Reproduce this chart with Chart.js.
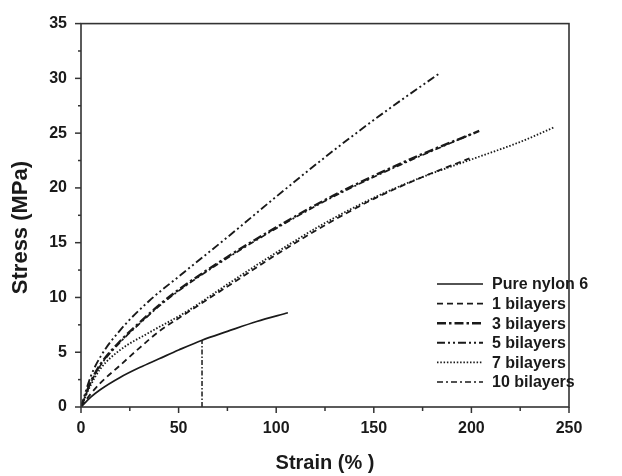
<!DOCTYPE html>
<html>
<head>
<meta charset="utf-8">
<script src="https://cdn.jsdelivr.net/npm/chart.js@4.4.1/dist/chart.umd.min.js"></script>
<style>
  html, body { margin: 0; padding: 0; background: #fff; }
  #wrap { width: 622px; height: 476px; position: relative; }
</style>
</head>
<body>
<div id="wrap"><canvas id="c" width="622" height="476"></canvas></div>
<script>
// ---- data (strain %, stress MPa) ----
const seriesLabels = ['Pure nylon 6', '1 bilayers', '3 bilayers', '5 bilayers', '7 bilayers', '10 bilayers'];

const nylonStrain = [0, 5, 10, 20, 30, 40, 50, 62, 75, 90, 106];
const nylonStress = [0, 0.9, 1.6, 2.7, 3.6, 4.4, 5.2, 6.1, 6.9, 7.8, 8.6];

const bi1Strain = [0, 5, 10, 20, 30, 40, 50, 75, 100, 125, 150, 175, 199];
const bi1Stress = [0, 1.2, 2.2, 3.8, 5.4, 6.9, 8.1, 11.0, 13.9, 16.6, 19.0, 21.0, 22.7];

const bi3Strain = [0, 5, 10, 20, 30, 40, 50, 75, 100, 125, 150, 175, 204];
const bi3Stress = [0, 2.3, 3.9, 6.0, 7.7, 9.3, 10.7, 13.7, 16.4, 18.9, 21.1, 23.1, 25.2];

const bi5Strain = [0, 5, 10, 20, 35, 50, 75, 100, 125, 141, 160, 184];
const bi5Stress = [0, 2.8, 4.6, 7.0, 9.7, 11.9, 15.5, 19.2, 22.8, 25.0, 27.5, 30.5];

const bi7Strain = [0, 5, 10, 20, 34, 54, 75, 100, 125, 150, 175, 200, 225, 242];
const bi7Stress = [0, 2.0, 3.5, 5.2, 6.7, 8.7, 11.2, 14.1, 16.8, 19.1, 21.0, 22.6, 24.2, 25.5];

const bi10Strain = [0, 5, 10, 20, 30, 40, 50, 75, 100, 125, 150, 175, 200];
const bi10Stress = [0, 2.2, 3.8, 5.9, 7.6, 9.2, 10.6, 13.6, 16.3, 18.8, 21.0, 23.0, 24.9];

// vertical marker at the yield strain of pure nylon 6
const markerStrain = [62, 62];
const markerStress = [0, 6.1];

const xTickValues = [0, 50, 100, 150, 200, 250];
const yTickValues = [0, 5, 10, 15, 20, 25, 30, 35];

function pts(xs, ys) { return xs.map((x, i) => ({ x: x, y: ys[i] })); }

const INK = '#1a1a1a';
const styles = [
  { borderDash: [], borderWidth: 1.7 },
  { borderDash: [6, 4], borderWidth: 1.8 },
  { borderDash: [9, 3, 2.5, 3], borderWidth: 2.4 },
  { borderDash: [8, 3, 2, 3, 2, 3], borderWidth: 1.9 },
  { borderDash: [1.5, 1.8], borderWidth: 1.8 },
  { borderDash: [6, 3, 2, 3], borderWidth: 1.7 }
];
const seriesData = [
  pts(nylonStrain, nylonStress), pts(bi1Strain, bi1Stress), pts(bi3Strain, bi3Stress),
  pts(bi5Strain, bi5Stress), pts(bi7Strain, bi7Stress), pts(bi10Strain, bi10Stress)
];

const datasets = seriesLabels.map((lab, i) => ({
  label: lab,
  data: seriesData[i],
  showLine: true,
  borderColor: INK,
  backgroundColor: INK,
  borderWidth: styles[i].borderWidth,
  borderDash: styles[i].borderDash,
  pointRadius: 0,
  cubicInterpolationMode: 'monotone',
  fill: false
}));
datasets.push({
  label: '_marker',
  data: pts(markerStrain, markerStress),
  showLine: true,
  borderColor: INK,
  borderWidth: 1.5,
  borderDash: [5, 2, 1.5, 2],
  pointRadius: 0,
  fill: false
});

const FONT = "'Liberation Sans', Arial, sans-serif";

const framePlugin = {
  id: 'frameTicks',
  afterDraw(chart) {
    const { ctx, chartArea: a, scales } = chart;
    ctx.save();
    ctx.strokeStyle = '#333';
    ctx.lineWidth = 1.6;
    ctx.strokeRect(a.left, a.top, a.right - a.left, a.bottom - a.top);
    ctx.lineWidth = 1.5;
    // x ticks (major every 50, minor every 25)
    const xs = scales.x;
    for (let v = xs.min; v <= xs.max + 1e-9; v += 25) {
      const px = xs.getPixelForValue(v);
      const len = (v % 50 === 0) ? 6 : 4;
      ctx.beginPath(); ctx.moveTo(px, a.bottom); ctx.lineTo(px, a.bottom + len); ctx.stroke();
    }
    const ys = scales.y;
    for (let v = ys.min; v <= ys.max + 1e-9; v += 2.5) {
      const py = ys.getPixelForValue(v);
      const len = (v % 5 === 0) ? 6 : 3;
      ctx.beginPath(); ctx.moveTo(a.left, py); ctx.lineTo(a.left - len, py); ctx.stroke();
    }
    // legend inside plot, lower right
    const lineX0 = a.right - 132, lineX1 = a.right - 86, textX = a.right - 77;
    let rowY = a.bottom - 123;
    ctx.font = "bold 16px " + FONT;
    ctx.textBaseline = 'middle';
    ctx.textAlign = 'left';
    chart.data.datasets.forEach(ds => {
      if (ds.label.startsWith('_')) return;
      ctx.strokeStyle = INK;
      ctx.lineWidth = ds.borderWidth;
      ctx.setLineDash(ds.borderDash || []);
      ctx.beginPath(); ctx.moveTo(lineX0, rowY); ctx.lineTo(lineX1, rowY); ctx.stroke();
      ctx.setLineDash([]);
      ctx.fillStyle = INK;
      ctx.fillText(ds.label, textX, rowY + 1);
      rowY += 19.6;
    });
    ctx.restore();
  }
};

new Chart(document.getElementById('c'), {
  type: 'scatter',
  data: { datasets: datasets },
  options: {
    responsive: false,
    animation: false,
    devicePixelRatio: 1,
    layout: { padding: { top: 23, right: 53, left: 0, bottom: 0 } },
    plugins: { legend: { display: false }, tooltip: { enabled: false } },
    scales: {
      x: {
        type: 'linear', min: 0, max: 250,
        afterBuildTicks(s) { s.ticks = xTickValues.map(v => ({ value: v })); },
        afterFit(s) { s.height = 69; },
        grid: { display: false, drawTicks: false },
        border: { display: false },
        ticks: { color: INK, padding: 12, font: { family: FONT, size: 16, weight: 'bold' }, maxRotation: 0 },
        title: { display: true, text: 'Strain (% )', color: INK, padding: { top: 0, bottom: 1 },
                 font: { family: FONT, size: 20, weight: 'bold' } }
      },
      y: {
        type: 'linear', min: 0, max: 35,
        afterBuildTicks(s) { s.ticks = yTickValues.map(v => ({ value: v })); },
        afterFit(s) { s.width = 81; },
        grid: { display: false, drawTicks: false },
        border: { display: false },
        ticks: { color: INK, padding: 14, font: { family: FONT, size: 16, weight: 'bold' } },
        title: { display: true, text: 'Stress (MPa)    ', color: INK, padding: { top: 8, bottom: 0 },
                 font: { family: FONT, size: 22, weight: 'bold' } }
      }
    }
  },
  plugins: [framePlugin]
});
</script>
</body>
</html>
